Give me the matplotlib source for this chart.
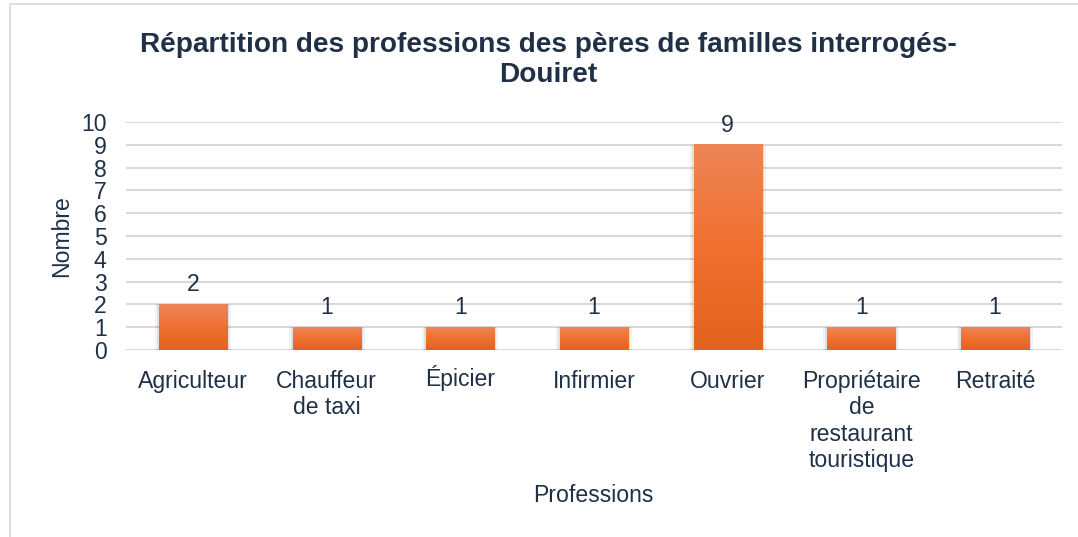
import numpy as np
import matplotlib.pyplot as plt
from matplotlib.colors import LinearSegmentedColormap
from matplotlib.patches import Rectangle
from matplotlib.transforms import ScaledTranslation

plt.rcParams['font.family'] = ['Liberation Sans', 'DejaVu Sans']

# Data
professions = ['Agriculteur', 'Chauffeur\nde taxi', 'Épicier', 'Infirmier', 'Ouvrier',
               'Propriétaire\nde\nrestaurant\ntouristique', 'Retraité']
counts = [2, 1, 1, 1, 9, 1, 1]

txt = '#1F3047'
fs = 16.6
fig = plt.figure(figsize=(10.78, 5.37), dpi=100)
ax = fig.add_axes([0.117, 0.348, 0.868, 0.425])

# outer frame
fig.patches.append(Rectangle((0.009, -0.01), 1.0, 1.003, transform=fig.transFigure,
                             fill=False, edgecolor='#D9D9D9', linewidth=1.2))

grad = LinearSegmentedColormap.from_list('g', ['#E2621E', '#F07030', '#ED8557'])
width = 0.51
x = np.arange(len(counts))
bars = ax.bar(x, counts, width=width, color='none')
for b in bars:
    x0, y0, w, h = b.get_x(), b.get_y(), b.get_width(), b.get_height()
    # soft shadow
    for k, a in [(0.03, 0.05), (0.015, 0.07)]:
        ax.add_patch(Rectangle((x0 - k, y0 - k * 4), w + 2 * k, h + k * 4, facecolor='#000000',
                               alpha=a, linewidth=0, zorder=2))
    ax.imshow(np.linspace(0, 1, 100).reshape(-1, 1), cmap=grad, aspect='auto',
              extent=[x0, x0 + w, y0, y0 + h], origin='lower', zorder=3)
    ax.text(x0 + w / 2, h + 0.35, str(int(h)), ha='center', va='bottom',
            fontsize=fs, color=txt)

ax.set_xlim(-0.5, len(counts) - 0.5)
ax.set_ylim(0, 10)
ax.set_yticks(range(0, 11))
ax.set_xticks(x)
ax.set_xticklabels(professions, fontsize=fs, color=txt, linespacing=1.2)
ax.tick_params(axis='y', labelsize=fs, labelcolor=txt, length=0, pad=14)
ax.tick_params(axis='x', length=0, pad=14)
# keep accented label on the same baseline as the others
for lbl in ax.get_xticklabels():
    if lbl.get_text().startswith('É'):
        lbl.set_transform(lbl.get_transform() + ScaledTranslation(0, 3.2 / 72, fig.dpi_scale_trans))
ax.yaxis.grid(True, color='#D9D9D9', linewidth=1.5, zorder=0)
ax.set_axisbelow(True)
for s in ax.spines.values():
    s.set_visible(False)

ax.set_ylabel('Nombre', fontsize=fs, color=txt, labelpad=6)
fig.text(0.55, 0.077, 'Professions', ha='center', va='center', fontsize=fs, color=txt)
fig.text(0.509, 0.888, 'Répartition des professions des pères de familles interrogés-\nDouiret',
         ha='center', va='center', fontsize=20.2, fontweight='bold', color=txt, linespacing=1.2)

fig.savefig('out.png', dpi=100)
